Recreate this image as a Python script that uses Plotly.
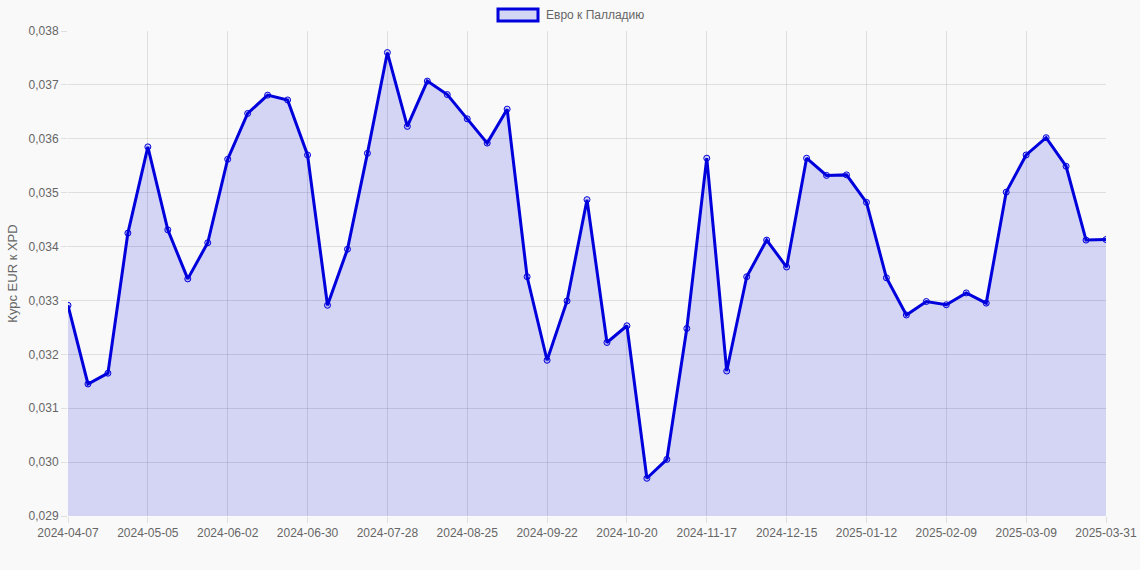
import plotly.graph_objects as go

dates = [
    "2024-04-07", "2024-04-14", "2024-04-21", "2024-04-28", "2024-05-05", "2024-05-12",
    "2024-05-19", "2024-05-26", "2024-06-02", "2024-06-09", "2024-06-16", "2024-06-23",
    "2024-06-30", "2024-07-07", "2024-07-14", "2024-07-21", "2024-07-28", "2024-08-04",
    "2024-08-11", "2024-08-18", "2024-08-25", "2024-09-01", "2024-09-08", "2024-09-15",
    "2024-09-22", "2024-09-29", "2024-10-06", "2024-10-13", "2024-10-20", "2024-10-27",
    "2024-11-03", "2024-11-10", "2024-11-17", "2024-11-24", "2024-12-01", "2024-12-08",
    "2024-12-15", "2024-12-22", "2024-12-29", "2025-01-05", "2025-01-12", "2025-01-19",
    "2025-01-26", "2025-02-02", "2025-02-09", "2025-02-16", "2025-02-23", "2025-03-02",
    "2025-03-09", "2025-03-16", "2025-03-23", "2025-03-30", "2025-03-31",
]

eur_xpd = [
    0.03291, 0.03145, 0.03165, 0.03425, 0.03585, 0.03431, 0.03340, 0.03407, 0.03562,
    0.03647, 0.03681, 0.03672, 0.03570, 0.03291, 0.03395, 0.03573, 0.03760, 0.03623,
    0.03707, 0.03682, 0.03637, 0.03592, 0.03655, 0.03344, 0.03189, 0.03299, 0.03487,
    0.03222, 0.03253, 0.02970, 0.03005, 0.03248, 0.03564, 0.03169, 0.03344, 0.03412,
    0.03362, 0.03564, 0.03532, 0.03533, 0.03482, 0.03342, 0.03273, 0.03298, 0.03292,
    0.03314, 0.03295, 0.03501, 0.03570, 0.03602, 0.03549, 0.03412, 0.03413,
]

series_name = "Евро к Палладию"
y_title = "Курс EUR к XPD"
y_ticks = [0.029, 0.030, 0.031, 0.032, 0.033, 0.034, 0.035, 0.036, 0.037, 0.038]
x_ticks = dates[::4]

LINE = "#0000dd"
FILL = "rgba(0,0,220,0.15)"
GRID = "rgba(0,0,0,0.1)"
TXT = "#666666"
BG = "#f9f9f9"

fig = go.Figure()
fig.add_trace(go.Scatter(
    x=dates, y=eur_xpd, mode="lines+markers", name=series_name,
    line=dict(color=LINE, width=3),
    marker=dict(size=6, color=FILL, line=dict(color=LINE, width=1)),
    fill="tozeroy", fillcolor=FILL, showlegend=False,
))

fig.update_layout(
    width=1140, height=570,
    paper_bgcolor=BG, plot_bgcolor=BG,
    margin=dict(l=68, r=34, t=31, b=54, autoexpand=False),
    separators=", ",
    font=dict(family="Liberation Sans, Arial, sans-serif", size=12, color=TXT),
    xaxis=dict(
        type="category", range=[0, len(dates) - 1], automargin=False,
        tickmode="array", tickvals=x_ticks, ticktext=x_ticks,
        showgrid=True, gridcolor=GRID, gridwidth=1,
        ticks="outside", ticklen=6, tickcolor=GRID,
        showline=False, zeroline=False, tickangle=0,
        tickfont=dict(size=12, color=TXT),
    ),
    yaxis=dict(
        range=[0.029, 0.038], tickmode="array", tickvals=y_ticks,
        tickformat=".3f", automargin=False,
        showgrid=True, gridcolor=GRID, gridwidth=1,
        ticks="outside", ticklen=6, tickcolor=GRID,
        showline=False, zeroline=False,
        title=dict(text=y_title, font=dict(size=13, color=TXT), standoff=8),
        tickfont=dict(size=12, color=TXT),
    ),
)

# Legend drawn like Chart.js: box + label
fig.add_shape(type="rect", xref="paper", yref="paper",
              x0=(498 - 68) / 1038, x1=(538 - 68) / 1038,
              y0=(516 - 21) / 485, y1=(516 - 9) / 485,
              line=dict(color=LINE, width=3), fillcolor="rgb(211,213,245)")
fig.add_annotation(xref="paper", yref="paper",
                   x=(544 - 68) / 1038, y=(516 - 15) / 485,
                   xanchor="left", yanchor="middle", showarrow=False,
                   text=series_name, font=dict(size=12, color=TXT))

fig.write_html(
    "out.html",
    config={"displayModeBar": False},
    post_script="document.body.style.margin='0';document.body.style.background='#f9f9f9';",
)
